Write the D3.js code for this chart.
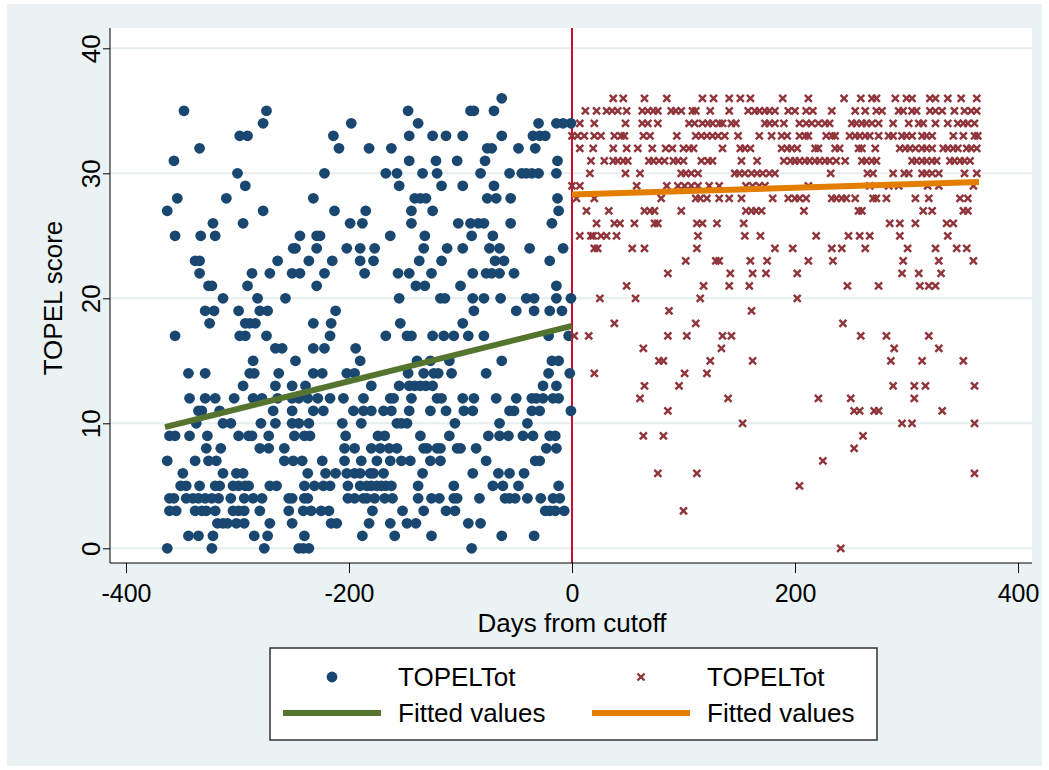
<!DOCTYPE html>
<html>
<head>
<meta charset="utf-8">
<script src="https://cdn.jsdelivr.net/npm/d3@7"></script>
<style>
  body { margin: 0; background: #fff; }
  text { font-family: "Liberation Sans", Arial, sans-serif; fill: #000; }
</style>
</head>
<body>
<div id="chart"></div>
<script>
// TOPEL score by days from cutoff, one row per score: [score, [days...]]
const beforeRows = [
  [36, [-63]],
  [35, [-348, -274, -147, -91, -88, -70]],
  [34, [-277, -198, -138, -30, -14, -8, -1]],
  [33, [-298, -291, -214, -146, -125, -113, -98, -63, -35, -29, -24]],
  [32, [-334, -209, -182, -162, -76, -72, -48, -33]],
  [31, [-357, -146, -122, -103, -78, -13]],
  [30, [-300, -222, -167, -157, -134, -121, -82, -56, -45, -41, -36, -30, -14]],
  [29, [-293, -155, -117, -98, -70]],
  [28, [-354, -310, -232, -141, -136, -131, -76, -68, -55, -13]],
  [27, [-363, -277, -213, -185, -144, -125, -12]],
  [26, [-322, -295, -199, -188, -144, -102, -91, -84, -79, -55, -18]],
  [25, [-356, -333, -320, -244, -229, -226, -163, -132, -90, -71]],
  [24, [-250, -248, -229, -202, -190, -177, -133, -112, -98, -74, -65, -38, -8]],
  [23, [-338, -334, -264, -236, -215, -190, -178, -137, -117, -69, -61, -20]],
  [22, [-334, -287, -271, -251, -244, -222, -186, -156, -146, -126, -89, -77, -72, -65, -52]],
  [21, [-326, -323, -291, -229, -140, -132, -100, -14]],
  [20, [-313, -282, -257, -155, -118, -114, -89, -79, -64, -41, -34, -14, -1]],
  [19, [-329, -321, -299, -280, -273, -212, -88, -50, -34, -20, -9]],
  [18, [-325, -293, -289, -284, -232, -216, -154, -98]],
  [17, [-356, -298, -293, -274, -217, -167, -148, -144, -125, -115, -106, -93, -79, -21, -3]],
  [16, [-266, -260, -232, -222, -194]],
  [15, [-286, -248, -190, -139, -127, -110, -63, -18, -12]],
  [14, [-344, -329, -289, -285, -263, -232, -224, -202, -195, -147, -133, -124, -120, -108, -77, -21, -2]],
  [13, [-295, -266, -251, -239, -180, -155, -146, -141, -136, -131, -125, -26, -14]],
  [12, [-343, -329, -320, -303, -286, -278, -264, -251, -245, -237, -228, -217, -205, -187, -163, -160,
        -144, -121, -117, -98, -88, -68, -50, -36, -32, -26, -17, -12]],
  [11, [-335, -332, -316, -268, -251, -232, -223, -196, -187, -180, -169, -162, -146, -127, -113, -97,
        -89, -56, -52, -36, -29, -1]],
  [10, [-337, -313, -306, -279, -266, -251, -245, -236, -206, -189, -157, -153, -148, -105, -65, -40]],
  [9, [-361, -356, -343, -327, -299, -290, -287, -272, -249, -240, -235, -203, -174, -168, -136, -110,
       -75, -65, -57, -44, -35, -20, -15]],
  [8, [-328, -315, -280, -272, -258, -204, -195, -180, -172, -164, -157, -133, -130, -121, -118, -103,
       -100, -86, -23, -14]],
  [7, [-363, -338, -326, -319, -258, -250, -242, -224, -204, -189, -175, -163, -153, -145, -127, -118,
       -77, -33, -29]],
  [6, [-349, -313, -301, -295, -237, -221, -212, -202, -195, -190, -181, -178, -169, -134, -89, -66, -56, -43]],
  [5, [-351, -346, -334, -320, -316, -304, -299, -293, -290, -271, -265, -240, -231, -223, -217, -201,
       -190, -184, -180, -175, -171, -167, -162, -138, -106, -71, -62, -48, -12]],
  [4, [-361, -357, -346, -340, -335, -329, -323, -317, -306, -294, -286, -278, -254, -251, -240, -237,
       -201, -195, -187, -184, -177, -168, -161, -138, -126, -119, -106, -103, -83, -60, -56, -51, -40,
       -28, -17, -11]],
  [3, [-361, -355, -338, -332, -328, -320, -304, -299, -294, -280, -254, -241, -234, -225, -218, -179,
       -152, -133, -113, -105, -24, -20, -15, -7]],
  [2, [-318, -313, -309, -301, -294, -271, -251, -216, -211, -182, -163, -148, -140, -93, -82]],
  [1, [-344, -335, -322, -285, -273, -240, -188, -159, -126, -63, -34]],
  [0, [-363, -323, -276, -245, -241, -236, -90]]
];

const afterRows = [
  [36, [37, 46, 65, 85, 117, 127, 141, 151, 160, 189, 212, 244, 259, 269, 273, 290, 300, 305, 321, 326,
        337, 349, 363]],
  [35, [12, 22, 31, 36, 41, 49, 63, 68, 73, 77, 89, 93, 98, 108, 111, 124, 141, 158, 164, 168, 173, 177,
        182, 194, 200, 210, 216, 233, 254, 263, 273, 278, 293, 297, 305, 309, 321, 326, 332, 343, 352, 358, 363]],
  [34, [7, 20, 48, 63, 68, 77, 105, 110, 117, 122, 126, 132, 135, 143, 147, 173, 177, 182, 190, 204, 210,
        215, 221, 227, 231, 251, 255, 260, 264, 269, 275, 288, 302, 311, 315, 326, 337, 346, 351, 355, 361]],
  [33, [0, 5, 11, 20, 26, 38, 44, 47, 64, 70, 94, 111, 116, 121, 126, 131, 137, 149, 168, 179, 188, 193,
        204, 209, 212, 228, 233, 236, 249, 254, 258, 263, 267, 275, 284, 288, 296, 300, 305, 314, 318, 323,
        342, 351, 361, 364]],
  [32, [7, 19, 37, 49, 59, 72, 84, 90, 100, 105, 109, 135, 151, 155, 160, 188, 193, 197, 202, 218, 221,
        236, 240, 257, 260, 272, 294, 299, 303, 308, 314, 318, 323, 333, 337, 342, 346, 354, 358, 363]],
  [31, [17, 29, 37, 41, 46, 50, 69, 73, 78, 83, 91, 95, 100, 116, 122, 126, 152, 166, 190, 196, 200, 204,
        209, 213, 218, 222, 227, 231, 237, 245, 260, 264, 269, 273, 305, 309, 314, 318, 323, 327, 339, 343,
        348, 352, 357]],
  [30, [16, 48, 61, 98, 102, 107, 113, 146, 150, 155, 161, 166, 171, 177, 182, 232, 265, 270, 288, 298,
        302, 314, 318, 323, 329, 352, 363]],
  [29, [0, 7, 58, 85, 95, 101, 107, 113, 123, 132, 156, 162, 168, 173, 212, 267, 284, 293, 319, 329, 360]],
  [28, [4, 20, 80, 111, 115, 121, 132, 141, 152, 180, 194, 200, 204, 210, 233, 237, 242, 246, 254, 270,
        273, 282, 308, 320, 348, 355]],
  [27, [13, 33, 65, 70, 74, 98, 156, 161, 165, 170, 208, 257, 260, 315, 323, 351, 355]],
  [26, [22, 38, 43, 56, 74, 77, 112, 117, 130, 154, 285, 294, 308, 336, 342]],
  [25, [7, 17, 19, 26, 31, 40, 113, 155, 169, 219, 248, 258, 267, 294, 337]],
  [24, [20, 23, 54, 65, 112, 182, 198, 233, 242, 263, 301, 326, 345, 354]],
  [23, [102, 129, 132, 160, 175, 212, 234, 297, 329, 360]],
  [22, [86, 142, 162, 174, 202, 296, 311, 331]],
  [21, [49, 118, 141, 159, 247, 275, 312, 320, 326]],
  [20, [25, 57, 115, 202]],
  [19, [87, 161]],
  [18, [38, 111, 243]],
  [17, [2, 15, 86, 103, 135, 143, 259, 282, 320]],
  [16, [64, 134, 289, 329]],
  [15, [78, 82, 124, 162, 286, 314, 351]],
  [14, [20, 101, 121]],
  [13, [65, 96, 288, 307, 317, 361]],
  [12, [61, 140, 221, 250, 307]],
  [11, [86, 253, 258, 271, 275, 332]],
  [10, [153, 296, 305, 361]],
  [9, [64, 82, 261]],
  [8, [253]],
  [7, [225]],
  [6, [77, 112, 361]],
  [5, [204]],
  [3, [100]],
  [0, [241]]
];

// fitted lines (end points)
const fitBeforeDays = [-365, 0];
const fitBeforeScore = [9.7, 17.8];
const fitAfterDays = [0, 365];
const fitAfterScore = [28.3, 29.3];

const xTicks = [-400, -200, 0, 200, 400];
const yTicks = [0, 10, 20, 30, 40];
const legendLabels = ['TOPELTot', 'TOPELTot', 'Fitted values', 'Fitted values'];

const width = 1049;
const height = 770;
const navy = '#1a476f';
const maroon = '#90353b';
const green = '#55752f';
const orange = '#e37e00';
const fontSize = '26px';

const svg = d3.select('#chart')
    .append('svg')
    .attr('width', width)
    .attr('height', height);

svg.append('rect')
    .attr('x', 7).attr('y', 4)
    .attr('width', width - 14).attr('height', height - 8)
    .attr('fill', '#eaf2f3');

const plotL = 110;
const plotR = 1032;
const plotT = 28;
const plotB = 563;

svg.append('rect')
    .attr('x', plotL).attr('y', plotT)
    .attr('width', plotR - plotL).attr('height', plotB - plotT)
    .attr('fill', '#fff');

const x = d3.scaleLinear().domain([-400, 400]).range([126, 1018]);
const y = d3.scaleLinear().domain([0, 40]).range([548.3, 48.3]);

const flat = (rows) => rows.flatMap(([s, days]) => days.map((d) => ({day: d, score: s})));
const before = flat(beforeRows);
const after = flat(afterRows);

// grid
svg.append('g')
    .selectAll('line')
    .data(yTicks)
    .join('line')
    .attr('x1', plotL).attr('x2', plotR)
    .attr('y1', (d) => y(d)).attr('y2', (d) => y(d))
    .attr('stroke', '#e6eef0')
    .attr('stroke-width', 2);

// cutoff line
svg.append('line')
    .attr('x1', x(0)).attr('x2', x(0))
    .attr('y1', plotT).attr('y2', plotB)
    .attr('stroke', '#c8102e')
    .attr('stroke-width', 2);

// axes (plain hyphen for negatives, as in the original)
const fmt = (d) => String(d);

const yAxis = svg.append('g')
    .attr('transform', `translate(${plotL},0)`)
    .call(d3.axisLeft(y).tickValues(yTicks).tickFormat(fmt).tickSize(7).tickSizeOuter(0));
yAxis.select('.domain').attr('d', `M0,${plotT}V${plotB}`).attr('stroke', '#000');
yAxis.selectAll('text')
    .attr('x', null).attr('dy', null)
    .attr('transform', 'translate(-10,0) rotate(-90)')
    .attr('text-anchor', 'middle')
    .style('font-size', fontSize);

const xAxis = svg.append('g')
    .attr('transform', `translate(0,${plotB})`)
    .call(d3.axisBottom(x).tickValues(xTicks).tickFormat(fmt).tickSize(10).tickSizeOuter(0));
xAxis.select('.domain').attr('d', `M${plotL},0H${plotR}`).attr('stroke', '#000');
xAxis.selectAll('text')
    .attr('y', 39).attr('dy', null)
    .style('font-size', '25px');
svg.selectAll('.tick line').attr('stroke', '#000');

svg.append('text')
    .attr('x', 572).attr('y', 632)
    .attr('text-anchor', 'middle')
    .style('font-size', fontSize)
    .text('Days from cutoff');

svg.append('text')
    .attr('transform', 'translate(62,298) rotate(-90)')
    .attr('text-anchor', 'middle')
    .style('font-size', fontSize)
    .text('TOPEL score');

// markers
const cross = d3.symbol().type(d3.symbolX).size(34);

svg.append('g')
    .selectAll('circle')
    .data(before)
    .join('circle')
    .attr('cx', (d) => x(d.day))
    .attr('cy', (d) => y(d.score))
    .attr('r', 5.4)
    .attr('fill', navy);

svg.append('g')
    .selectAll('path')
    .data(after)
    .join('path')
    .attr('d', cross)
    .attr('transform', (d) => `translate(${x(d.day)},${y(d.score)})`)
    .attr('fill', 'none')
    .attr('stroke', maroon)
    .attr('stroke-width', 2.4);

const line = d3.line().x((d) => x(d[0])).y((d) => y(d[1]));
svg.append('path')
    .datum(d3.zip(fitBeforeDays, fitBeforeScore))
    .attr('d', line)
    .attr('fill', 'none')
    .attr('stroke', green)
    .attr('stroke-width', 6);
svg.append('path')
    .datum(d3.zip(fitAfterDays, fitAfterScore))
    .attr('d', line)
    .attr('fill', 'none')
    .attr('stroke', orange)
    .attr('stroke-width', 6);

// legend
const lg = svg.append('g');
lg.append('rect')
    .attr('x', 270).attr('y', 648)
    .attr('width', 607).attr('height', 92)
    .attr('fill', '#fff')
    .attr('stroke', '#333')
    .attr('stroke-width', 1.5);

const cols = [283, 592];
const rows = [677, 713];
lg.append('circle')
    .attr('cx', cols[0] + 49).attr('cy', rows[0]).attr('r', 5.4).attr('fill', navy);
lg.append('path')
    .attr('d', cross)
    .attr('transform', `translate(${cols[1] + 49},${rows[0]})`)
    .attr('fill', 'none').attr('stroke', maroon).attr('stroke-width', 2.4);
lg.append('line')
    .attr('x1', cols[0]).attr('x2', cols[0] + 98)
    .attr('y1', rows[1]).attr('y2', rows[1])
    .attr('stroke', green).attr('stroke-width', 6);
lg.append('line')
    .attr('x1', cols[1]).attr('x2', cols[1] + 98)
    .attr('y1', rows[1]).attr('y2', rows[1])
    .attr('stroke', orange).attr('stroke-width', 6);

lg.selectAll('text.lbl')
    .data(legendLabels)
    .join('text')
    .attr('class', 'lbl')
    .attr('x', (d, i) => cols[i % 2] + 115)
    .attr('y', (d, i) => rows[Math.floor(i / 2)] + 9)
    .style('font-size', fontSize)
    .text((d) => d);
</script>
</body>
</html>
